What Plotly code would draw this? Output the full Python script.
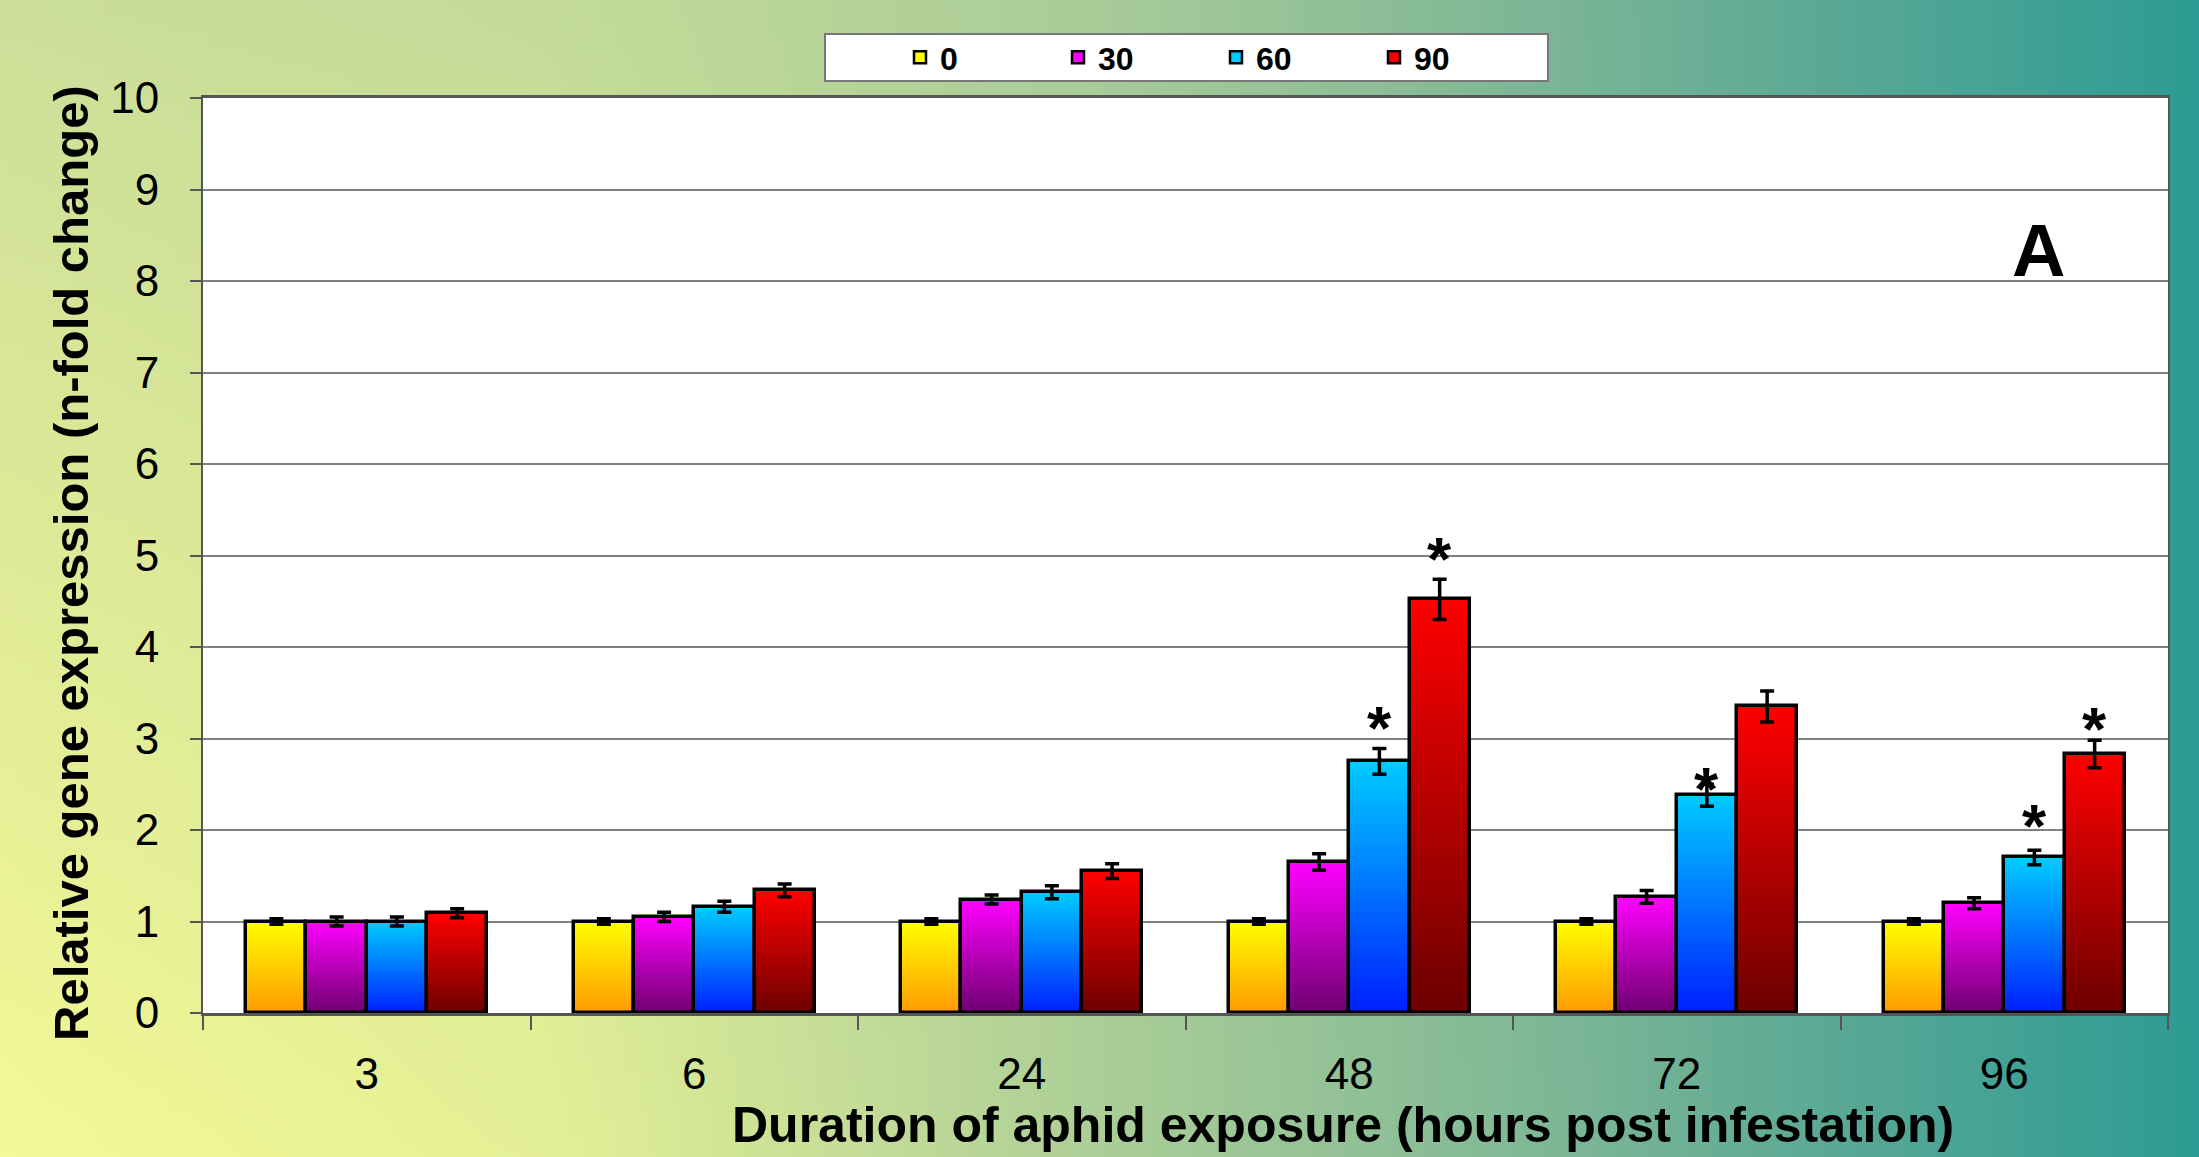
import base64
import struct
import zlib
import plotly.graph_objects as go

# ---------------- data ----------------
categories = ["3", "6", "24", "48", "72", "96"]
series_names = ["0", "30", "60", "90"]
vals_0 = [1.00, 1.00, 1.00, 1.00, 1.00, 1.00]
vals_30 = [1.00, 1.05, 1.24, 1.65, 1.27, 1.20]
vals_60 = [1.00, 1.16, 1.32, 2.75, 2.38, 1.70]
vals_90 = [1.09, 1.34, 1.55, 4.52, 3.35, 2.83]
err_0 = [0.03, 0.03, 0.03, 0.03, 0.03, 0.03]
err_30 = [0.05, 0.05, 0.05, 0.09, 0.07, 0.06]
err_60 = [0.05, 0.06, 0.07, 0.14, 0.12, 0.08]
err_90 = [0.05, 0.07, 0.08, 0.22, 0.17, 0.15]
star_cats = ["48", "48", "72", "96", "96"]
star_series = ["60", "90", "60", "60", "90"]
star_y = [3.25, 5.10, 2.59, 2.18, 3.24]
y_ticks = [0, 1, 2, 3, 4, 5, 6, 7, 8, 9, 10]

values = [vals_0, vals_30, vals_60, vals_90]
errors = [err_0, err_30, err_60, err_90]

# ---------------- styles ----------------
W, H = 2199, 1157
ML, MR, MT, MB = 203, 31, 98, 144
PW, PH = W - ML - MR, H - MT - MB
SANS = "Liberation Sans, Arial, sans-serif"

tops = [(255, 255, 0), (255, 0, 255), (0, 204, 255), (255, 0, 0)]
bottoms = [(255, 153, 0), (110, 0, 112), (0, 30, 255), (108, 0, 0)]
BAR_W = 0.184
N_STEPS = 40


def lerp(a, b, t):
    return tuple(a[i] + (b[i] - a[i]) * t for i in range(3))


def rgb(c):
    return "rgb(%d,%d,%d)" % tuple(int(round(x)) for x in c)


def piecewise(stops, u):
    for (u0, c0), (u1, c1) in zip(stops[:-1], stops[1:]):
        if u <= u1:
            return lerp(c0, c1, (u - u0) / (u1 - u0))
    return stops[-1][1]


def gradient_png(w, h):
    top_stops = [(0.0, (204, 222, 152)), (0.25, (196, 219, 152)), (0.5, (168, 204, 152)),
                 (0.7, (125, 182, 150)), (0.85, (86, 167, 149)), (1.0, (46, 156, 148))]
    bot_stops = [(0.0, (244, 248, 150)), (0.25, (228, 240, 150)), (0.5, (172, 206, 151)),
                 (0.7, (128, 184, 150)), (0.85, (86, 167, 149)), (1.0, (46, 156, 148))]
    raw = b""
    for j in range(h):
        v = j / (h - 1)
        raw += b"\x00"
        for i in range(w):
            u = i / (w - 1)
            c = lerp(piecewise(top_stops, u), piecewise(bot_stops, u), v)
            raw += bytes(int(round(x)) for x in c)

    def chunk(tag, data):
        return struct.pack(">I", len(data)) + tag + data + struct.pack(">I", zlib.crc32(tag + data) & 0xffffffff)

    png = b"\x89PNG\r\n\x1a\n"
    png += chunk(b"IHDR", struct.pack(">IIBBBBB", w, h, 8, 2, 0, 0, 0))
    png += chunk(b"IDAT", zlib.compress(raw, 9))
    png += chunk(b"IEND", b"")
    return "data:image/png;base64," + base64.b64encode(png).decode()


fig = go.Figure()

for s, name in enumerate(series_names):
    offset = -2 * BAR_W + s * BAR_W
    vals = values[s]
    for k in range(N_STEPS):
        frac = (k + 0.5) / N_STEPS
        col = rgb(lerp(tops[s], bottoms[s], frac))
        fig.add_trace(go.Bar(
            x=categories,
            y=[v * (N_STEPS - k) / N_STEPS for v in vals],
            width=BAR_W, offset=offset,
            marker=dict(color=col,
                        line=dict(color="black", width=2.5 if k == 0 else 0)),
            name=name, legendgroup=name, showlegend=(k == 0),
            hoverinfo="skip",
        ))
    fig.add_trace(go.Bar(
        x=categories, y=vals, width=BAR_W, offset=offset,
        marker=dict(color="rgba(0,0,0,0)", line=dict(color="black", width=3.5)),
        error_y=dict(type="data", array=errors[s], color="black", thickness=3.5, width=7),
        name=name, legendgroup=name, showlegend=False,
    ))

annotations = []
for c, sname, yv in zip(star_cats, star_series, star_y):
    s = series_names.index(sname)
    xpos = categories.index(c) - 1.5 * BAR_W + s * BAR_W
    annotations.append(dict(x=xpos, y=yv, xref="x", yref="y", text="<b>*</b>", showarrow=False,
                            font=dict(family=SANS, size=62, color="black"),
                            xanchor="center", yanchor="middle", yshift=-12))

annotations.append(dict(x=(2038 - ML) / PW, y=(MT + PH - 250) / PH, xref="paper", yref="paper",
                        text="<b>A</b>", showarrow=False,
                        font=dict(family=SANS, size=74, color="black"),
                        xanchor="center", yanchor="middle"))
annotations.append(dict(x=(1343 - ML) / PW, y=(MT + PH - 1125) / PH, xref="paper", yref="paper",
                        text="<b>Duration of aphid exposure (hours post infestation)</b>",
                        showarrow=False, font=dict(family=SANS, size=50, color="black"),
                        xanchor="center", yanchor="middle"))
annotations.append(dict(x=(71 - ML) / PW, y=(MT + PH - 563) / PH, xref="paper", yref="paper",
                        text="<b>Relative gene expression (n-fold change)</b>", textangle=-90,
                        showarrow=False, font=dict(family=SANS, size=49, color="black"),
                        xanchor="center", yanchor="middle"))

shapes = [
    dict(type="rect", xref="paper", yref="paper", x0=0, x1=1, y0=0, y1=1,
         fillcolor="white", line=dict(width=0), layer="below"),
    dict(type="rect", xref="paper", yref="paper",
         x0=(825 - ML) / PW, x1=(1548 - ML) / PW,
         y0=(MT + PH - 81) / PH, y1=(MT + PH - 34) / PH,
         fillcolor="white", line=dict(color="#777777", width=2), layer="below"),
]

fig.update_layout(
    width=W, height=H,
    margin=dict(l=ML, r=MR, t=MT, b=MB, pad=0),
    paper_bgcolor="rgba(0,0,0,0)", plot_bgcolor="rgba(0,0,0,0)",
    barmode="overlay", bargap=0,
    images=[dict(source=gradient_png(220, 116), xref="paper", yref="paper",
                 x=-ML / PW, y=1 + MT / PH, sizex=W / PW, sizey=H / PH,
                 xanchor="left", yanchor="top", sizing="stretch", layer="below")],
    shapes=shapes,
    annotations=annotations,
    legend=dict(orientation="h", x=(900 - ML) / PW, xanchor="left",
                y=(MT + PH - 57.5) / PH, yanchor="middle",
                bgcolor="rgba(0,0,0,0)", borderwidth=0,
                entrywidth=113, entrywidthmode="pixels",
                font=dict(family=SANS, size=32, color="black", weight="bold"),
                traceorder="normal"),
    xaxis=dict(type="category", categoryorder="array", categoryarray=categories,
               range=[-0.5, 5.5], showgrid=False, zeroline=False,
               ticks="outside", tickson="boundaries", ticklen=14, tickwidth=2, tickcolor="#555555",
               showline=True, linecolor="#555555", linewidth=3, mirror=True,
               tickfont=dict(family=SANS, size=44, color="black"), ticklabelstandoff=20),
    yaxis=dict(range=[0, 10], tickvals=y_ticks, showgrid=True, gridcolor="#808080", gridwidth=2,
               zeroline=False, ticks="outside", ticklen=11, tickwidth=2, tickcolor="#555555",
               showline=True, linecolor="#555555", linewidth=2, mirror=True,
               tickfont=dict(family=SANS, size=44, color="black"), ticklabelstandoff=22),
    showlegend=True,
)

fig.write_html("out.html", config={"displayModeBar": False},
               post_script="document.body.style.margin='0px';")
